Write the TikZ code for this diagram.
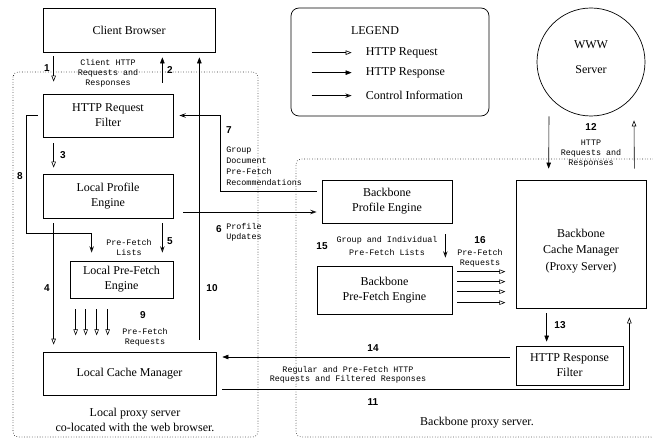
\documentclass[tikz,border=0pt]{standalone}
\usepackage{fontspec}
\setmainfont{Liberation Serif}
\newfontfamily\monof{Liberation Mono}
\newfontfamily\numf{Liberation Sans}
\newfontfamily\serf{Liberation Serif}
\usetikzlibrary{arrows.meta}
\begin{document}
\begin{tikzpicture}[x=1pt,y=-1pt, line width=0.6pt,
 box/.style={draw, line width=0.7pt, inner sep=0pt, align=center, font=\serf\fontsize{12}{15}\selectfont},
 lbl/.style={font=\serf\fontsize{12}{15}\selectfont, align=center, inner sep=0pt},
 mono/.style={font=\monof\fontsize{8.4}{10}\selectfont, align=center, inner sep=0pt},
 num/.style={font=\numf\bfseries\fontsize{10}{12}\selectfont, inner sep=0pt},
 region/.style={line width=0.8pt, dash pattern=on 0pt off 2.6pt, line cap=round, rounded corners=5pt},
 req/.style={-{Triangle[open,length=6pt,width=4.5pt]}},
 resp/.style={-{Triangle[length=6pt,width=4.5pt]}},
 ctl/.style={-{Stealth[open,length=6.5pt,width=4.5pt,inset=2.5pt]}}]
\useasboundingbox (0,0) rectangle (653,438);

% regions
\draw[region] (13,72) rectangle (258,437);
\draw[region] (653,159) -- (296,159) -- (296,437) -- (653,437);

% boxes
\node[box, minimum width=172pt, minimum height=44pt] (cb) at (129,30) {Client Browser};
\node[box, minimum width=130pt, minimum height=43pt] (hrf) at (108,115.5) {HTTP Request\\Filter};
\node[box, minimum width=130pt, minimum height=44pt] (lpe) at (108,196) {Local Profile\\Engine};
\node[box, minimum width=103pt, minimum height=37pt] (lpf) at (121.5,279.5) {Local Pre-Fetch\\Engine};
\node[box, minimum width=173pt, minimum height=43pt] (lcm) at (129.5,373.5) {Local Cache Manager};
\node[box, minimum width=130pt, minimum height=43pt] (bpe) at (387,201.5) {Backbone\\Profile Engine};
\node[box, minimum width=135pt, minimum height=48pt] (bpf) at (384.5,290) {Backbone\\Pre-Fetch Engine};
\node[box, minimum width=130pt, minimum height=128pt] (bcm) at (581,244) {};
\node[lbl, font=\serf\fontsize{12}{16.5}\selectfont] (bcmt) at (581,251) {Backbone\\Cache Manager\\(Proxy Server)};
\node[box, minimum width=107pt, minimum height=39pt] (hrsf) at (569.5,365.5) {HTTP Response\\Filter};
\node[draw, circle, minimum size=108pt, inner sep=0pt, line width=0.7pt] (www) at (591,62) {};
\node[lbl] (wwwa) at (591,45) {WWW};
\node[lbl] (wwwb) at (591,70) {Server};

% legend
\node[draw, rounded corners=8pt, minimum width=198pt, minimum height=108pt, line width=0.7pt] (leg) at (390,62) {};
\node[lbl] (legt) at (375,31) {LEGEND};
\draw[req] ([shift={(21,45)}]leg.north west) -- ++(40,0) node[lbl, anchor=west, xshift=14pt] (l1) {HTTP Request};
\draw[resp] ([shift={(21,65)}]leg.north west) -- ++(40,0) node[lbl, anchor=west, xshift=14pt] (l2) {HTTP Response};
\draw[ctl] ([shift={(21,88)}]leg.north west) -- ++(40,0) node[lbl, anchor=west, xshift=14pt] (l3) {Control Information};

% connectors
\draw[req] ([shift={(11,4)}]cb.south west) -- ([shift={(11,-12)}]hrf.north west);
\draw[resp] ([shift={(-11,-11)}]hrf.north east) -- ([shift={(-53,5)}]cb.south east);
\draw[resp] ([shift={(-17,-12)}]lcm.north east) -- ([shift={(-16,5)}]cb.south east);
\draw[req] ([shift={(11,6)}]hrf.south west) -- ([shift={(11,-6)}]lpe.north west);
\draw[req] ([shift={(11,5)}]lpe.south west) -- ([shift={(11,-7)}]lcm.north west);
\draw[ctl] ([shift={(-11,5)}]lpe.south east) -- ([shift={(-11,-8)}]lpf.north east);
\draw[ctl] ([shift={(-5,0)}]hrf.west) -- ++(-11,0) |- ([shift={(22,-27)}]lpf.north west) -- ([shift={(22,-8)}]lpf.north west);
\foreach \dx in {6,16,27,38}
  \draw[req] ([shift={(\dx,11)}]lpf.south west) -- ([shift={(\dx,37)}]lpf.south west);
\draw[ctl] ([shift={(10,16)}]lpe.east) -- ([shift={(-5,10.5)}]bpe.west);
\draw[ctl] ([shift={(-5,-10.5)}]bpe.west) -| ([shift={(47,0)}]hrf.east) -- ([shift={(6,0)}]hrf.east);
\draw[ctl] ([shift={(-7,11)}]bpe.south east) -- ([shift={(-7,-8)}]bpf.north east);
\foreach \dy in {6,16,26,37}
  \draw[req] ([shift={(5,\dy)}]bpf.north east) -- ++(48,0);
\draw[resp] ([shift={(-42,0)}]www.south) -- ([shift={(33,-11)}]bcm.north west);
\draw[req] ([shift={(-12,-11)}]bcm.north east) -- ([shift={(43,4)}]www.south);
\draw[resp] ([shift={(31,5)}]bcm.south west) -- ([shift={(31,-4)}]hrsf.north west);
\draw[resp] ([shift={(-6,-8.5)}]hrsf.west) -- ([shift={(6,-16.5)}]lcm.east);
\draw[req] ([shift={(6,15.5)}]lcm.east) -| ([shift={(-17,9)}]bcm.south east);

% numbers
\node[num] (n1) at (47,68) {1};
\node[num] (n2) at (170,70) {2};
\node[num] (n3) at (63,155) {3};
\node[num] (n4) at (47,288) {4};
\node[num] (n5) at (170,241) {5};
\node[num] (n6) at (219,229) {6};
\node[num] (n7) at (229,130) {7};
\node[num] (n8) at (20,176) {8};
\node[num] (n9) at (143,315) {9};
\node[num] (n10) at (212,288) {10};
\node[num] (n11) at (373,402) {11};
\node[num] (n12) at (591,127) {12};
\node[num] (n13) at (560,325) {13};
\node[num] (n14) at (373,348) {14};
\node[num] (n15) at (322,246) {15};
\node[num] (n16) at (480,240) {16};

% mono labels
\node[mono] (m1) at (108,73) {Client HTTP\\Requests and\\Responses};
\node[mono, align=left, anchor=west, font=\monof\fontsize{8.4}{11}\selectfont] (m7) at (226,166.5) {Group\\Document\\Pre-Fetch\\Recommendations};
\node[mono, align=left, anchor=west] (m6) at (226,232) {Profile\\Updates};
\node[mono] (m5) at (129,247) {Pre-Fetch\\Lists};
\node[mono] (m9) at (145,337) {Pre-Fetch\\Requests};
\node[mono, font=\monof\fontsize{8.4}{13}\selectfont] (m15) at (387,245.5) {Group and Individual\\Pre-Fetch Lists};
\node[mono] (m16) at (480,258) {Pre-Fetch\\Requests};
\node[mono] (m12) at (591,154) {HTTP\\Requests and\\Responses};
\node[mono, font=\monof\fontsize{8.4}{8.8}\selectfont] (m11) at (348,375) {Regular and Pre-Fetch HTTP\\Requests and Filtered Responses};

% region captions
\node[lbl] (cap1) at (135,419.5) {Local proxy server\\co-located with the web browser.};
\node[lbl] (cap2) at (477,423) {Backbone proxy server.};
\end{tikzpicture}
\end{document}
